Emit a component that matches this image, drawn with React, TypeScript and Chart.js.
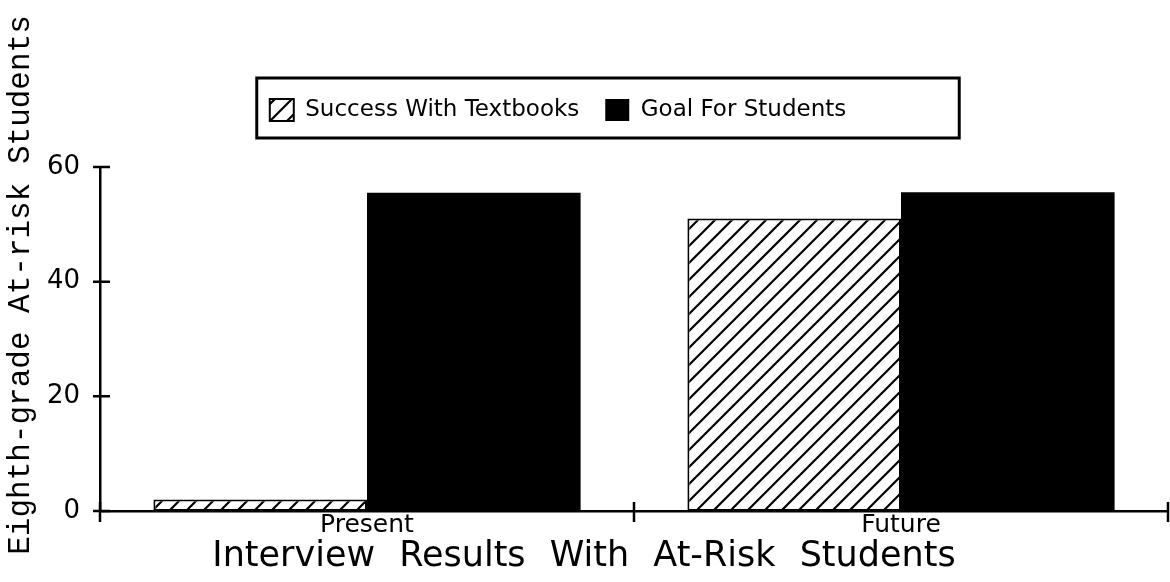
import React, { useEffect, useRef } from 'react';
import { Chart, registerables } from 'chart.js';

Chart.register(...registerables);

const categories = ['Present', 'Future'];
const seriesNames = ['Success With Textbooks', 'Goal For Students'];
const successWithTextbooks = [2, 51];
const goalForStudents = [55.5, 55.6];
const yTickValues = [0, 20, 40, 60];
const chartTitle = 'Interview Results With At-Risk Students';
const yAxisTitle = 'Eighth-grade At-risk Students';

const SANS = '"DejaVu Sans", Verdana, sans-serif';
const MONO = '"Liberation Mono", "Courier New", monospace';
const LEGEND_SHIFT = 26;

function makeHatch(): CanvasPattern | string {
  const size = 17;
  const c = document.createElement('canvas');
  c.width = size;
  c.height = size;
  const g = c.getContext('2d');
  if (!g) return '#fff';
  g.fillStyle = '#fff';
  g.fillRect(0, 0, size, size);
  g.strokeStyle = '#000';
  g.lineWidth = 2.2;
  g.beginPath();
  g.moveTo(-2, size + 2);
  g.lineTo(size + 2, -2);
  g.moveTo(-2, 2);
  g.lineTo(2, -2);
  g.moveTo(size - 2, size + 2);
  g.lineTo(size + 2, size - 2);
  g.stroke();
  return g.createPattern(c, 'repeat') || '#fff';
}

const decorations: any = {
  id: 'decorations',
  afterLayout(chart: any) {
    const lg = chart.legend;
    if (lg) {
      lg.left -= LEGEND_SHIFT;
      lg.right -= LEGEND_SHIFT;
    }
  },
  beforeDraw(chart: any) {
    const tb = chart.titleBlock;
    if (tb && !tb.__spaced) {
      const orig = tb.draw.bind(tb);
      tb.draw = (...args: any[]) => {
        const c = tb.ctx;
        c.save();
        c.wordSpacing = '13px';
        orig(...args);
        c.restore();
      };
      tb.__spaced = true;
    }
  },
  afterDraw(chart: any) {
    const ctx = chart.ctx;
    const { left, bottom } = chart.chartArea;
    const ys = chart.scales.y;
    const xs = chart.scales.x;
    ctx.save();
    ctx.strokeStyle = '#000';
    ctx.lineWidth = 2.5;
    ctx.beginPath();
    ys.ticks.forEach((_: any, i: number) => {
      const py = ys.getPixelForTick(i);
      ctx.moveTo(left - 7, py);
      ctx.lineTo(left + 10, py);
    });
    for (let k = 0; k <= categories.length; k++) {
      const px = xs.getPixelForValue(k - 0.5);
      ctx.moveTo(px, bottom - 9);
      ctx.lineTo(px, bottom + 11);
    }
    ctx.stroke();

    // legend frame
    const hb = chart.legend && chart.legend.legendHitBoxes;
    if (hb && hb.length) {
      const first = hb[0];
      const last = hb[hb.length - 1];
      const fl = first.left - 13;
      const fr = last.left + last.width + 113;
      const ft = first.top - 20.5;
      const fb = first.top + 39.5;
      ctx.lineWidth = 3;
      ctx.strokeRect(fl, ft, fr - fl, fb - ft);
    }

    // y axis title
    ctx.translate(21, 285);
    ctx.rotate(-Math.PI / 2);
    ctx.font = '31px ' + MONO;
    ctx.fillStyle = '#000';
    ctx.textAlign = 'center';
    ctx.textBaseline = 'middle';
    ctx.fillText(yAxisTitle, 0, 0);
    ctx.restore();
  },
};

export default function App() {
  const ref = useRef<HTMLCanvasElement | null>(null);

  useEffect(() => {
    const canvas = ref.current;
    if (!canvas) return;
    const hatch = makeHatch();
    const chart = new Chart(canvas, {
      type: 'bar',
      data: {
        labels: categories,
        datasets: [
          {
            label: seriesNames[0],
            data: successWithTextbooks,
            backgroundColor: hatch as any,
            borderColor: '#000',
            borderWidth: 2,
            borderSkipped: false,
          },
          {
            label: seriesNames[1],
            data: goalForStudents,
            backgroundColor: '#000',
            borderColor: '#000',
            borderWidth: 0,
          },
        ],
      },
      options: {
        responsive: false,
        animation: false,
        devicePixelRatio: 1,
        layout: { padding: { top: 72.5, left: 0, right: 2, bottom: 4 } },
        datasets: {
          bar: { categoryPercentage: 0.8, barPercentage: 1.0 },
        },
        scales: {
          x: {
            type: 'category',
            offset: true,
            grid: { display: false, drawTicks: false },
            border: { display: true, color: '#000', width: 2.5 },
            ticks: {
              color: '#000',
              padding: 2,
              font: { family: SANS, size: 25, lineHeight: 1 },
            },
            afterFit: (s: any) => {
              s.height = 25;
            },
          },
          y: {
            min: 0,
            max: 60,
            grid: { display: false, drawTicks: false },
            border: { display: true, color: '#000', width: 2.5 },
            afterBuildTicks: (s: any) => {
              s.ticks = yTickValues.map((v) => ({ value: v }));
            },
            ticks: {
              color: '#000',
              padding: 20,
              font: { family: SANS, size: 26 },
            },
            afterFit: (s: any) => {
              s.width = 100;
            },
          },
        },
        plugins: {
          legend: {
            display: true,
            position: 'top',
            labels: {
              color: '#000',
              boxWidth: 24,
              boxHeight: 22,
              padding: 26,
              font: { family: SANS, size: 23 },
            },
          },
          subtitle: {
            display: true,
            text: '',
            position: 'top',
            weight: 500,
            font: { size: 10, lineHeight: 1 },
            padding: { top: 25.5, bottom: 0 },
          } as any,
          title: {
            display: true,
            text: chartTitle,
            position: 'bottom',
            color: '#000',
            font: { family: SANS, size: 35, weight: 'normal', lineHeight: 1.2 },
            padding: { top: 0, bottom: 0 },
          },
          tooltip: { enabled: false },
        },
      },
      plugins: [decorations],
    });
    return () => chart.destroy();
  }, []);

  return (
    <div style={{ position: 'fixed', left: 0, top: 0, width: 1170, height: 582, background: '#fff' }}>
      <canvas ref={ref} width={1170} height={582} style={{ display: 'block' }} />
    </div>
  );
}
